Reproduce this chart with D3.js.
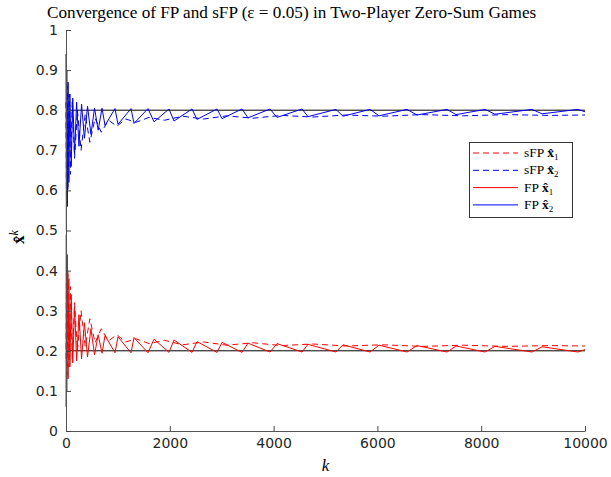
<!DOCTYPE html>
<html>
<head>
<meta charset="utf-8">
<script src="https://cdn.jsdelivr.net/npm/d3@7"></script>
<style>
  body { margin: 0; background: #fff; }
  svg { display: block; }
</style>
</head>
<body>
<div id="chart"></div>
<script>
// FP x2 (blue solid) vertices
var fpX2K = [0, 8, 15, 26, 40, 55, 75, 100, 130, 165, 205, 250, 300, 355, 415, 480, 550, 620, 694,
    752, 944, 1002, 1253, 1310, 1580, 1696, 1985, 2081, 2428, 2524, 2910, 3006, 3392, 3507,
    3931, 4066, 4548, 4663, 5202, 5337, 5858, 6032, 6571, 6764, 7342, 7515, 8074, 8266,
    8980, 9172, 9866, 10000];
var fpX2 = [0.94, 0.5, 0.9, 0.56, 0.87, 0.62, 0.84, 0.66, 0.83, 0.69, 0.82, 0.71, 0.815, 0.73, 0.81, 0.74, 0.805, 0.75, 0.805,
    0.762, 0.804, 0.765, 0.804, 0.767, 0.804, 0.771, 0.803, 0.773, 0.803, 0.777, 0.803, 0.779, 0.803, 0.781,
    0.803, 0.782, 0.803, 0.784, 0.802, 0.785, 0.802, 0.786, 0.802, 0.788, 0.802, 0.789, 0.802, 0.79,
    0.802, 0.791, 0.802, 0.796];

// FP x1 (red solid) vertices
var fpX1K = [0, 6, 15, 26, 40, 55, 75, 100, 130, 165, 205, 250, 300, 355, 415, 480, 550, 620, 694,
    752, 944, 1002, 1253, 1310, 1580, 1696, 1985, 2081, 2428, 2524, 2910, 3006, 3392, 3507,
    3931, 4066, 4548, 4663, 5202, 5337, 5858, 6032, 6571, 6764, 7342, 7515, 8074, 8266,
    8980, 9172, 9866, 10000];
var fpX1 = [0.06, 0.49, 0.1, 0.44, 0.13, 0.38, 0.16, 0.34, 0.17, 0.31, 0.175, 0.29, 0.18, 0.27, 0.185, 0.255, 0.19, 0.24, 0.194,
    0.238, 0.195, 0.235, 0.195, 0.233, 0.195, 0.229, 0.196, 0.227, 0.196, 0.223, 0.196, 0.221, 0.196, 0.219,
    0.197, 0.218, 0.197, 0.216, 0.197, 0.215, 0.197, 0.214, 0.197, 0.213, 0.197, 0.212, 0.197, 0.211,
    0.197, 0.21, 0.197, 0.203];

// sFP (dashed) vertices
var sfpK = [0, 10, 22, 38, 58, 85, 120, 165, 220, 290, 370, 460, 560, 680, 820, 980, 1150, 1350,
    1600, 1900, 2250, 2650, 3100, 3600, 4150, 4750, 5400, 6100, 6850, 7650, 8500, 9300, 10000];
var sfpX2 = [0.82, 0.55, 0.86, 0.6, 0.84, 0.64, 0.82, 0.68, 0.8, 0.7, 0.79, 0.72, 0.78, 0.745, 0.775, 0.76, 0.778, 0.77,
    0.782, 0.775, 0.785, 0.778, 0.786, 0.78, 0.787, 0.783, 0.788, 0.785, 0.789, 0.786, 0.789, 0.787, 0.788];
var sfpX1 = [0.18, 0.45, 0.14, 0.4, 0.16, 0.36, 0.18, 0.32, 0.2, 0.3, 0.21, 0.28, 0.22, 0.255, 0.225, 0.24, 0.222, 0.23,
    0.218, 0.226, 0.215, 0.222, 0.214, 0.22, 0.213, 0.217, 0.212, 0.215, 0.211, 0.214, 0.211, 0.213, 0.212];

var equilibrium = [0.8, 0.2];
var xTicks = [0, 2000, 4000, 6000, 8000, 10000];
var yTicks = [0, 0.1, 0.2, 0.3, 0.4, 0.5, 0.6, 0.7, 0.8, 0.9, 1];
var legendNames = ["sFP", "sFP", "FP", "FP"];
var legendSubs = ["1", "2", "1", "2"];

function init() {
    var w = 611;
    var h = 477;
    var m = { left: 66, right: 26, top: 30, bottom: 46 };

    var xScale = d3.scaleLinear().domain([0, 10000]).range([m.left, w - m.right]);
    var yScale = d3.scaleLinear().domain([0, 1]).range([h - m.bottom, m.top]);

    var svg = d3.select("#chart")
        .append("svg")
        .attr("width", w)
        .attr("height", h);

    // equilibrium reference lines
    svg.selectAll(".eq")
        .data(equilibrium)
        .enter()
        .append("line")
        .attr("x1", xScale(0))
        .attr("x2", xScale(10000))
        .attr("y1", function(d) { return yScale(d); })
        .attr("y2", function(d) { return yScale(d); })
        .style("stroke", "#000")
        .style("stroke-width", 1);

    var series = [
        { k: sfpK, v: sfpX1, color: "#ff0000", dash: "6,4" },
        { k: sfpK, v: sfpX2, color: "#0000ff", dash: "6,4" },
        { k: fpX1K, v: fpX1, color: "#ff0000", dash: null },
        { k: fpX2K, v: fpX2, color: "#0000ff", dash: null }
    ];

    var line = d3.line()
        .x(function(d) { return xScale(d[0]); })
        .y(function(d) { return yScale(d[1]); });

    svg.selectAll(".series")
        .data(series)
        .enter()
        .append("path")
        .attr("d", function(s) { return line(d3.zip(s.k, s.v)); })
        .style("fill", "none")
        .style("stroke", function(s) { return s.color; })
        .style("stroke-width", 1)
        .style("stroke-dasharray", function(s) { return s.dash; });

    // axes, ticks pointing inward
    var xAxis = svg.append("g")
        .attr("transform", "translate(0," + yScale(0) + ")")
        .call(d3.axisBottom(xScale).tickValues(xTicks).tickFormat(d3.format("d")).tickSizeInner(-5).tickSizeOuter(0).tickPadding(7));
    var yAxis = svg.append("g")
        .attr("transform", "translate(" + xScale(0) + ",0)")
        .call(d3.axisLeft(yScale).tickValues(yTicks).tickFormat(d3.format("")).tickSizeInner(-5).tickSizeOuter(0).tickPadding(8));

    [xAxis, yAxis].forEach(function(a) {
        a.select(".domain").style("stroke", "#555");
        a.selectAll(".tick line").style("stroke", "#444");
        a.selectAll("text")
            .style("font-family", "DejaVu Sans")
            .style("font-size", "14px")
            .style("fill", "#262626");
    });

    // title
    svg.append("text")
        .attr("x", 47)
        .attr("y", 18)
        .style("font-family", "Liberation Serif")
        .style("font-size", "17.2px")
        .style("fill", "#000")
        .text("Convergence of FP and sFP (\u03b5 = 0.05) in Two-Player Zero-Sum Games");

    // x label
    svg.append("text")
        .attr("x", (xScale(0) + xScale(10000)) / 2)
        .attr("y", 471)
        .attr("text-anchor", "middle")
        .style("font-family", "Liberation Serif")
        .style("font-style", "italic")
        .style("font-size", "17px")
        .text("k");

    // y label
    var yl = svg.append("text")
        .attr("transform", "translate(24,237) rotate(-90)")
        .attr("text-anchor", "middle")
        .style("font-family", "Liberation Serif")
        .style("font-size", "17px");
    yl.append("tspan").style("font-weight", "bold").text("x\u0302");
    yl.append("tspan").attr("dy", -6).style("font-style", "italic").style("font-size", "12px").text("k");

    // legend
    var lg = svg.append("g");
    lg.append("rect")
        .attr("x", 469.5).attr("y", 142.5)
        .attr("width", 103).attr("height", 75)
        .style("fill", "#fff")
        .style("stroke", "#333")
        .style("stroke-width", 1);

    var rows = lg.selectAll(".row")
        .data(series)
        .enter()
        .append("g")
        .attr("transform", function(d, i) { return "translate(0," + (153 + i * 17.3) + ")"; });

    rows.append("line")
        .attr("x1", 473).attr("x2", 518)
        .style("stroke", function(d) { return d.color; })
        .style("stroke-width", 1)
        .style("stroke-dasharray", function(d) { return d.dash; });

    var lt = rows.append("text")
        .attr("x", 524)
        .attr("y", 4)
        .style("font-family", "Liberation Serif")
        .style("font-size", "13.5px");
    lt.append("tspan").text(function(d, i) { return legendNames[i] + " "; });
    lt.append("tspan").style("font-weight", "bold").text("x\u0302");
    lt.append("tspan").attr("dy", 3).style("font-size", "9px").text(function(d, i) { return legendSubs[i]; });
}

window.onload = init;
</script>
</body>
</html>
